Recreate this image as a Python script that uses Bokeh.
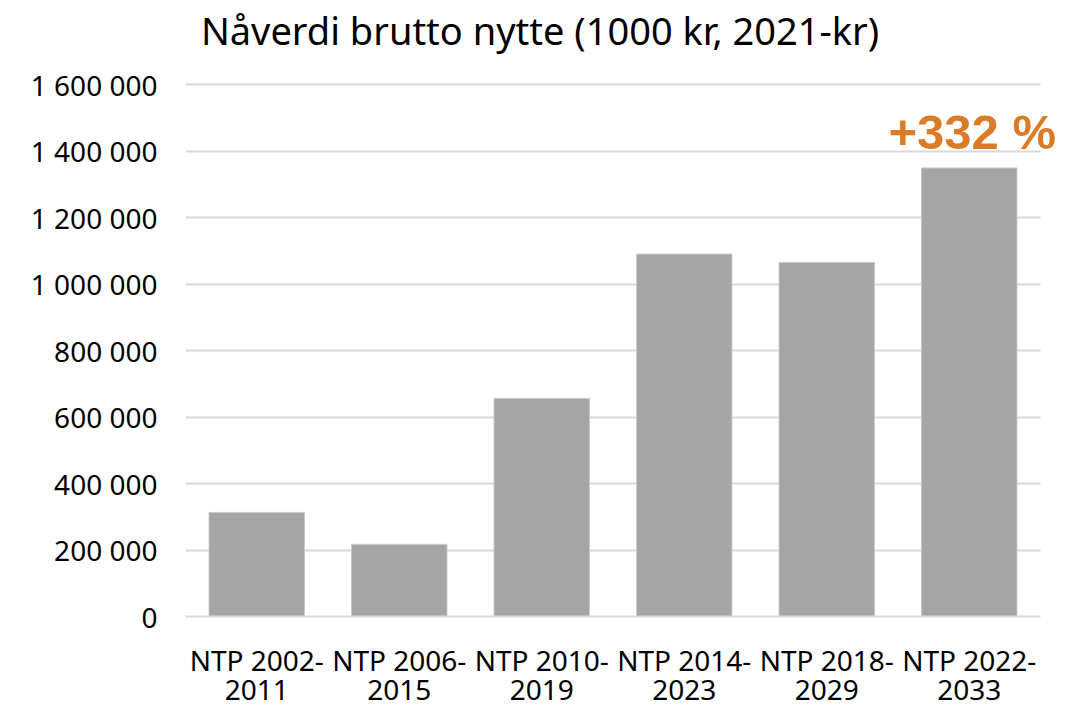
from bokeh.plotting import figure
from bokeh.models import FixedTicker, Range1d, ColumnDataSource, LinearAxis, Label
from bokeh.embed import file_html
from bokeh.resources import INLINE

label_line1 = ["NTP 2002-", "NTP 2006-", "NTP 2010-", "NTP 2014-", "NTP 2018-", "NTP 2022-"]
label_line2 = ["2011", "2015", "2019", "2023", "2029", "2033"]
values = [313000, 217000, 656000, 1090000, 1065000, 1349000]
y_ticks = [0, 200000, 400000, 600000, 800000, 1000000, 1200000, 1400000, 1600000]
y_tick_labels = ["0", "200 000", "400 000", "600 000", "800 000",
                 "1 000 000", "1 200 000", "1 400 000", "1 600 000"]
title_text = "Nåverdi brutto nytte (1000 kr, 2021-kr)"
annotation = "+332 %"

FONT = "Noto Sans"
n = len(values)
xpos = [i + 0.5 for i in range(n)]

W, H = 1077, 709
LEFT, BOTTOM = 185, 93
FRAME_W = W - LEFT
FRAME_H = H - BOTTOM
PX_PER_CAT = 142.5             # width of one category slot in pixels
PX_PER_UNIT_Y = 532 / 1600000  # pixels per value unit

p = figure(width=W, height=H,
           x_range=Range1d(0, FRAME_W / PX_PER_CAT),
           y_range=Range1d(0, FRAME_H / PX_PER_UNIT_Y),
           output_backend="svg", toolbar_location=None,
           min_border_left=LEFT, min_border_right=0,
           min_border_top=0, min_border_bottom=BOTTOM)

src = ColumnDataSource(dict(x=xpos, val=values))
p.vbar(x="x", top="val", width=0.67, source=src, fill_color="#A5A5A5",
       line_color="#C9C9C9", line_width=1)

# title (drawn inside the extended frame, above the 1 600 000 line)
p.add_layout(Label(x=n / 2, y=y_ticks[-1], text=title_text, x_offset=-73,
                   y_offset=55, text_font=FONT, text_font_size="38px",
                   text_color="#000000", text_align="center",
                   text_baseline="alphabetic"))

# percentage annotation above the last bar
p.add_layout(Label(x=xpos[-1], y=values[-1], text=annotation, x_offset=3, y_offset=36,
                   text_font="Liberation Sans", text_font_size="49px",
                   text_font_style="bold", text_color="#DA7B27",
                   text_align="center", text_baseline="alphabetic"))

p.yaxis.ticker = FixedTicker(ticks=y_ticks)
p.yaxis.major_label_overrides = {t: l for t, l in zip(y_ticks, y_tick_labels)}
p.yaxis.axis_line_color = None
p.yaxis.major_tick_line_color = None
p.yaxis.minor_tick_line_color = None
p.yaxis.major_label_text_font = FONT
p.yaxis.major_label_text_font_size = "28px"
p.yaxis.major_label_text_color = "#000000"
p.yaxis.major_label_standoff = 22

xa = p.xaxis[0]
xa.ticker = FixedTicker(ticks=xpos)
xa.major_label_overrides = {x: l for x, l in zip(xpos, label_line1)}
xa.bounds = (0, n)
xa.axis_line_color = "#D9D9D9"
xa.axis_line_width = 2
xa.major_tick_line_color = None
xa.minor_tick_line_color = None
xa.major_label_text_font = FONT
xa.major_label_text_font_size = "28px"
xa.major_label_text_color = "#000000"
xa.major_label_text_line_height = 1.0
xa.major_label_standoff = 18

xa2 = LinearAxis(ticker=FixedTicker(ticks=xpos),
                 major_label_overrides={x: l for x, l in zip(xpos, label_line2)},
                 axis_line_color=None, major_tick_line_color=None,
                 minor_tick_line_color=None, major_label_text_font=FONT,
                 major_label_text_font_size="28px", major_label_text_color="#000000",
                 major_label_text_line_height=1.0, major_label_standoff=-8)
p.add_layout(xa2, "below")

p.xgrid.grid_line_color = None
p.ygrid.grid_line_color = "#D9D9D9"
p.ygrid.grid_line_width = 2
p.ygrid.cross_bounds = (0, n)
p.outline_line_color = None
p.background_fill_color = "white"

open("out.html", "w").write(file_html(p, INLINE))
